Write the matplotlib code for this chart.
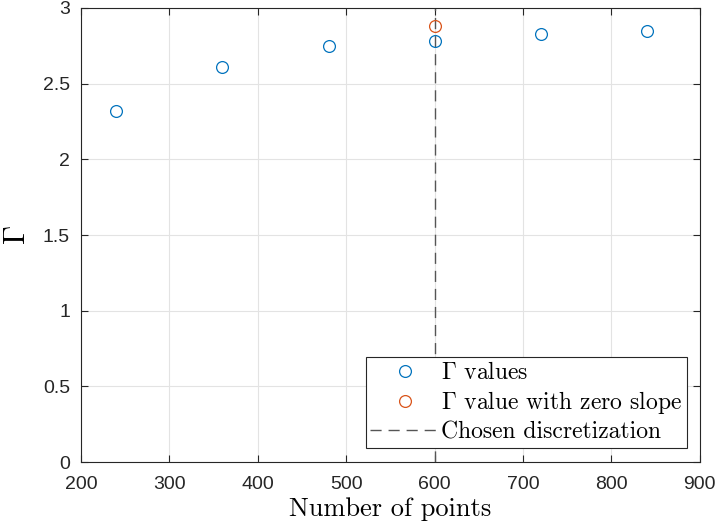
import matplotlib
matplotlib.use("Agg")
import matplotlib.pyplot as plt

plt.rcParams['mathtext.fontset'] = 'cm'
plt.rcParams['font.family'] = ['Liberation Sans', 'DejaVu Sans']

# data
n_points = [240, 360, 480, 600, 720, 840]
gamma_vals = [2.319, 2.611, 2.748, 2.779, 2.830, 2.850]
zero_slope_x = [600]
zero_slope_y = [2.881]
chosen = 600

blue = '#0072BD'
orange = '#D95319'

fig = plt.figure(figsize=(7.17, 5.30), dpi=100)
ax = fig.add_axes([0.113, 0.128, 0.863, 0.857])

ax.plot(n_points, gamma_vals, 'o', mfc='none', mec=blue, ms=8.5, mew=0.9,
        label=r'$\Gamma$ values', zorder=3)
ax.plot(zero_slope_x, zero_slope_y, 'o', mfc='none', mec=orange, ms=8.5, mew=0.9,
        label=r'$\Gamma$ value with zero slope', zorder=3)
ax.axvline(chosen, color='#555555', ls=(0, (8, 5)), lw=1.0,
           label='Chosen discretization', zorder=2)

ax.set_xlim(200, 900)
ax.set_ylim(0, 3)
ax.set_xticks(range(200, 901, 100))
ax.set_yticks([0, 0.5, 1, 1.5, 2, 2.5, 3])
ax.set_yticklabels(['0', '0.5', '1', '1.5', '2', '2.5', '3'])
ax.grid(True, color='#e3e3e3', lw=0.8)
ax.set_axisbelow(True)
ax.tick_params(direction='in', top=True, right=True, labelsize=14,
               color='#262626', labelcolor='#262626', length=5)
ax.tick_params(axis='x', pad=10)
ax.tick_params(axis='y', pad=8)
for s in ax.spines.values():
    s.set_color('#262626')
    s.set_linewidth(0.8)

ax.set_xlabel('Number of points', fontfamily='cmr10', fontsize=19, labelpad=3)
ax.set_ylabel(r'$\Gamma$', fontsize=22, labelpad=8)

leg = ax.legend(loc='lower right', bbox_to_anchor=(0.983, 0.025),
                prop={'family': 'cmr10', 'size': 17}, fancybox=False,
                edgecolor='#262626', framealpha=1, handlelength=2.9,
                borderpad=0.2, labelspacing=0.22, handletextpad=0.1,
                borderaxespad=0.1)
leg.get_frame().set_linewidth(0.8)

fig.savefig('out.png', dpi=100)
